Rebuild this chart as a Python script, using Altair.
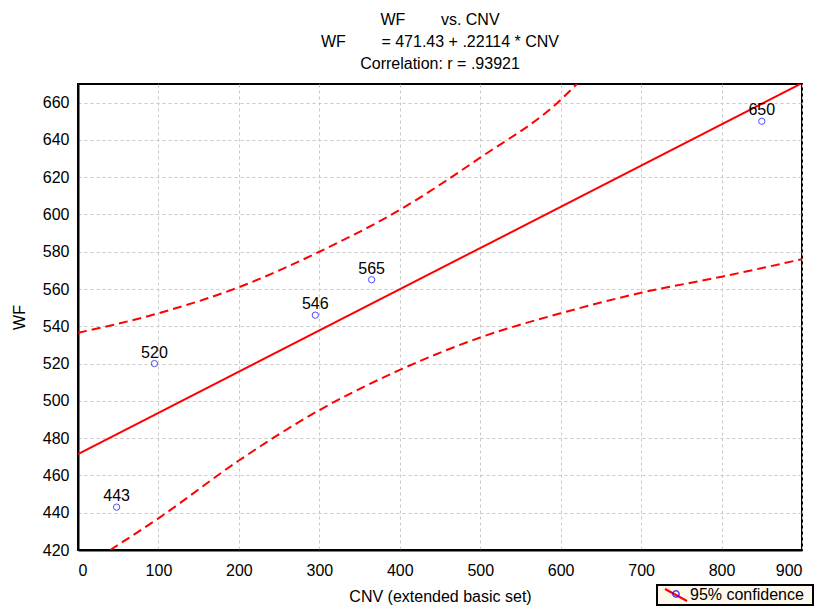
import altair as alt
import pandas as pd

# data points
cnv = [48, 95, 295, 365, 850]
wf = [443, 520, 546, 565, 650]
labels = ["443", "520", "546", "565", "650"]

# regression line endpoints (WF = 471.43 + .22114 * CNV)
fit_x = [0, 900]
fit_y = [471.43, 670.46]

# 95% confidence bands
upper_x = [0, 100, 200, 300, 400, 500, 600, 620]
upper_y = [536.5, 547, 561, 580, 602.5, 630.5, 661.5, 670]
lower_x = [40, 100, 200, 300, 400, 500, 600, 700, 800, 900]
lower_y = [420, 437, 468, 495, 516.6, 534, 547, 558, 566.6, 576]

FONT = "Liberation Sans"
NB = "\u00a0"
W, H = 724, 466

xs = alt.Scale(domain=[0, 900], nice=False, zero=False)
ys = alt.Scale(domain=[420, 670], nice=False, zero=False)

pts = pd.DataFrame({"x": cnv, "y": wf, "label": labels})
fit = pd.DataFrame({"x": fit_x, "y": fit_y})
band = pd.concat([
    pd.DataFrame({"x": upper_x, "y": upper_y, "b": "upper"}),
    pd.DataFrame({"x": lower_x, "y": lower_y, "b": "lower"}),
])

xenc = alt.X("x:Q", scale=xs, title="CNV (extended basic set)",
             axis=alt.Axis(values=list(range(0, 901, 100)), grid=True,
                           labelPadding=12, titlePadding=10, labelOverlap=False))
yenc = alt.Y("y:Q", scale=ys, title="WF",
             axis=alt.Axis(values=list(range(420, 661, 20)), grid=True,
                           labelPadding=9, titlePadding=15, labelOverlap=False))

base_pts = alt.Chart(pts)
points = base_pts.mark_point(shape="circle", filled=False, color="#0000ff",
                             size=40, strokeWidth=1).encode(x=xenc, y=yenc)
texts = base_pts.mark_text(dy=-6, baseline="alphabetic", fontSize=16, font=FONT,
                           color="black").encode(x=xenc, y=yenc, text="label:N")

fit_line = alt.Chart(fit).mark_line(color="#ff0000", strokeWidth=2, clip=True).encode(
    x=xenc, y=yenc)
band_lines = alt.Chart(band).mark_line(color="#ff0000", strokeWidth=2,
                                       strokeDash=[9, 5], clip=True,
                                       interpolate="monotone").encode(
    x=xenc, y=yenc, detail="b:N")

# custom legend
leg_df = pd.DataFrame({"t": ["95% confidence"]})
leg_box = alt.Chart(leg_df).mark_rect(fill="#fff8ec", stroke="black", strokeWidth=2).encode(
    x=alt.value(579), x2=alt.value(735), y=alt.value(501), y2=alt.value(521))
leg_line = alt.Chart(leg_df).mark_rule(color="#ff0000", strokeWidth=2).encode(
    x=alt.value(587), x2=alt.value(609), y=alt.value(505), y2=alt.value(517))
leg_pt = alt.Chart(leg_df).mark_point(shape="circle", filled=False, color="#0000ff",
                                      size=40, strokeWidth=1.5).encode(
    x=alt.value(598), y=alt.value(510))
leg_txt = alt.Chart(leg_df).mark_text(align="left", baseline="middle", fontSize=16,
                                      font=FONT, color="black").encode(
    x=alt.value(612), y=alt.value(511), text="t:N")

chart = alt.layer(points, band_lines, fit_line, texts,
                  leg_box, leg_line, leg_pt, leg_txt).properties(
    width=W, height=H,
    background="white",
    autosize=alt.AutoSizeParams(type="none"),
    padding={"left": 70, "top": 76, "right": 13, "bottom": 56},
    title=alt.Title(
        text=["WF" + NB * 7 + " vs. CNV",
              "WF" + NB * 7 + " = 471.43 + .22114 * CNV",
              "Correlation: r = .93921"],
        font=FONT, fontSize=16, fontWeight="normal",
        lineHeight=22, anchor="middle", color="black", offset=12),
).configure_view(stroke="black", strokeWidth=2).configure_axis(
    labelFont=FONT, titleFont=FONT, labelFontSize=16, titleFontSize=16,
    titleFontWeight="normal", labelColor="black", titleColor="black",
    domainColor="black", domainWidth=2, ticks=False, labelOverlap=False,
    gridColor="#c8c8c8", gridDash=[3, 3], gridWidth=1,
)

chart.save("out.html", embed_options={"renderer": "svg", "actions": False})
